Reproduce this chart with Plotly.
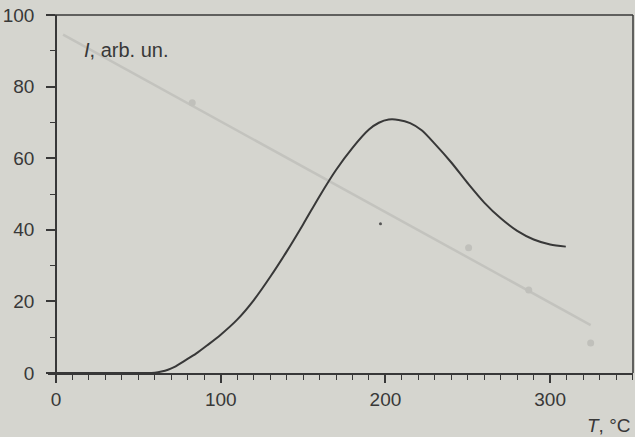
import plotly.graph_objects as go

# Glow curve: temperature (°C) vs intensity (arb. un.)
temperature = [0, 20, 40, 55, 60, 64, 68, 72, 78, 85, 92, 100, 110, 120, 130, 140, 150,
               160, 170, 180, 190, 196, 202, 208, 215, 222, 230, 240, 250, 260,
               270, 280, 290, 300, 309.5]
intensity = [0, 0, 0, 0, 0.1, 0.4, 0.9, 1.7, 3.4, 5.4, 7.8, 10.7, 14.9, 20.3, 26.8, 33.9, 41.5,
             49.4, 56.7, 62.9, 68.0, 69.9, 70.8, 70.7, 69.8, 67.8, 64.0, 58.8, 53.0, 47.6,
             43.2, 39.7, 37.3, 35.9, 35.3]

# faint show-through line from the reverse side of the page
ghost_t = [4.3, 324.6]
ghost_i = [94.5, 13.4]
ghost_mark_t = [82.7, 250.5, 287, 324.6]
ghost_mark_i = [75.5, 35, 23.2, 8.4]

speck_t = [197]
speck_i = [41.7]

x_ticks = [0, 100, 200, 300]
y_ticks = [0, 20, 40, 60, 80, 100]

ink = "#383838"
bg = "#d5d5cf"
font = "Liberation Sans, Arial, sans-serif"

fig = go.Figure()
fig.add_trace(go.Scatter(x=ghost_t, y=ghost_i, mode="lines",
                         line=dict(color="#c3c3be", width=2.5), hoverinfo="skip"))
fig.add_trace(go.Scatter(x=ghost_mark_t, y=ghost_mark_i, mode="markers",
                         marker=dict(color="#c0c0bb", size=7), hoverinfo="skip"))
fig.add_trace(go.Scatter(x=temperature, y=intensity, mode="lines",
                         line=dict(color=ink, width=2, shape="spline", smoothing=0.8)))
fig.add_trace(go.Scatter(x=speck_t, y=speck_i, mode="markers",
                         marker=dict(color="#555555", size=3), hoverinfo="skip"))

fig.update_layout(
    width=635, height=437,
    margin=dict(l=48, r=2, t=15, b=64),
    paper_bgcolor=bg, plot_bgcolor=bg,
    showlegend=False,
    font=dict(family=font, size=19, color=ink),
    xaxis=dict(range=[-4.86, 350.3], tickvals=x_ticks, ticks="outside", ticklen=8,
               tickwidth=1.5, tickcolor=ink, showline=True, linecolor=ink, linewidth=1.5,
               showgrid=False, zeroline=False, ticklabelstandoff=0, automargin=False,
               minor=dict(dtick=10, tick0=0, ticks="outside", ticklen=5,
                          tickwidth=1.2, tickcolor=ink, showgrid=False)),
    yaxis=dict(range=[0, 100], tickvals=y_ticks, ticks="outside", ticklen=9,
               tickwidth=1.5, tickcolor=ink, showline=True, linecolor=ink, linewidth=1.5,
               showgrid=False, zeroline=False, anchor="free", position=8 / 585,
               ticklabelstandoff=8, automargin=False,
               minor=dict(dtick=10, tick0=0, ticks="outside", ticklen=5,
                          tickwidth=1.2, tickcolor=ink, showgrid=False)),
    shapes=[
        dict(type="line", xref="paper", yref="paper", x0=0, x1=1, y0=1, y1=1,
             line=dict(color=ink, width=1.5)),
        dict(type="line", xref="paper", yref="paper", x0=1, x1=1, y0=0, y1=1,
             line=dict(color=ink, width=1.5)),
    ],
    annotations=[
        dict(text="<i>I</i>, arb. un.", xref="paper", yref="paper", x=34 / 585, y=1 - 35 / 358,
             xanchor="left", yanchor="middle", showarrow=False, font=dict(size=20, color=ink)),
        dict(text="<i>T</i>, °C", xref="paper", yref="paper", x=1.0, y=-52 / 358,
             xanchor="right", yanchor="middle", showarrow=False, font=dict(size=19, color=ink)),
    ],
)

fig.write_html("out.html", config={"displayModeBar": False},
               post_script="document.body.style.margin='0px';"
               "document.body.style.background='" + bg + "';")
